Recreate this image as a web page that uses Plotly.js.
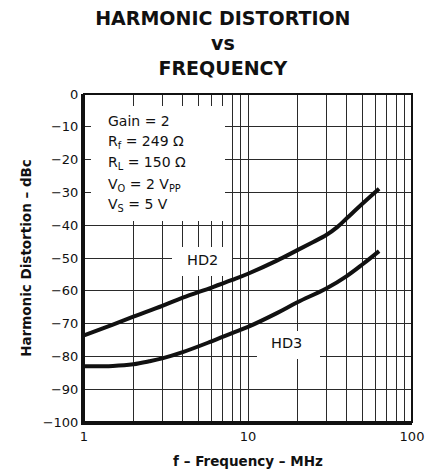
<!DOCTYPE html>
<html>
<head>
<meta charset="utf-8">
<script src="https://cdn.plot.ly/plotly-3.0.1.min.js"></script>
<style>
  html, body { margin: 0; padding: 0; background: #fff; }
  #chart { width: 437px; height: 472px; }
</style>
</head>
<body>
<div id="chart"></div>
<script>
// ---- Data ----
const seriesNames = ['HD2', 'HD3'];
const freqHD2 = [1, 1.5, 2, 3, 4, 6, 8, 10, 15, 20, 25, 30, 35, 40, 50, 63];
const hd2 = [-73.6, -70.3, -67.9, -64.6, -62.1, -59.0, -56.7, -54.8, -50.8, -47.6, -45.1, -43.0, -40.6, -37.9, -33.4, -28.9];
const freqHD3 = [1, 1.5, 2, 2.5, 3, 4, 6, 8, 10, 15, 20, 30, 40, 50, 63];
const hd3 = [-83.0, -82.9, -82.4, -81.5, -80.6, -78.7, -75.4, -72.9, -71.0, -66.8, -63.5, -59.3, -55.5, -51.9, -47.9];

const xTickVals = [1, 10, 100];
const xTickText = ['1', '10', '100'];
const xMinorVals = [2, 3, 4, 5, 6, 7, 8, 9, 20, 30, 40, 50, 60, 70, 80, 90];
const yTickVals = [0, -10, -20, -30, -40, -50, -60, -70, -80, -90, -100];
const yTickText = ['0', '\u221210', '\u221220', '\u221230', '\u221240', '\u221250', '\u221260', '\u221270', '\u221280', '\u221290', '\u2212100'];

const conditionLines = [
  'Gain = 2',
  'R<sub>f</sub> = 249 \u03A9',
  'R<sub>L</sub> = 150 \u03A9',
  'V<sub>O</sub> = 2 V<sub>PP</sub>',
  'V<sub>S</sub> = 5 V'
];

const chartTitle = 'HARMONIC DISTORTION<br>vs<br>FREQUENCY';
const xTitle = 'f \u2013 Frequency \u2013 MHz';
const yTitle = 'Harmonic Distortion \u2013 dBc';

// ---- Styling ----
const FONT = 'DejaVu Sans';
const gridColor = '#2a2a2a';

const traces = [
  { x: freqHD2, y: hd2, name: seriesNames[0], mode: 'lines',
    line: { color: '#111', width: 4, shape: 'spline', smoothing: 1 } },
  { x: freqHD3, y: hd3, name: seriesNames[1], mode: 'lines',
    line: { color: '#111', width: 4, shape: 'spline', smoothing: 1 } }
];

// condition text lines (paper coords)
const condX = 0.066;
const condY = [0.9176, 0.8545, 0.789, 0.723, 0.662];
const annotations = conditionLines.map((t, i) => ({
  xref: 'paper', yref: 'paper', x: condX, y: condY[i],
  xanchor: 'left', yanchor: 'middle', showarrow: false, align: 'left',
  text: t, font: { family: FONT, size: 14, color: '#111' }
}));
annotations.push({
  xref: 'paper', yref: 'paper', x: 0.3628, y: 0.4939, xanchor: 'center', yanchor: 'middle',
  showarrow: false, text: seriesNames[0], font: { family: FONT, size: 14.5, color: '#111' }
});
annotations.push({
  xref: 'paper', yref: 'paper', x: 0.6189, y: 0.2399, xanchor: 'center', yanchor: 'middle',
  showarrow: false, text: seriesNames[1], font: { family: FONT, size: 14.5, color: '#111' }
});

const whiteBox = (x0, x1, y0, y1) => ({
  type: 'rect', xref: 'paper', yref: 'paper', x0, x1, y0, y1,
  fillcolor: '#ffffff', line: { width: 0 }, layer: 'above'
});

const shapes = [
  whiteBox(0.0213, 0.4299, 0.6128, 0.9634),
  whiteBox(0.2683, 0.4512, 0.4451, 0.5335),
  whiteBox(0.5274, 0.7195, 0.1921, 0.2774),
  { type: 'rect', xref: 'paper', yref: 'paper', x0: 0, x1: 1, y0: 0, y1: 1,
    line: { color: '#111', width: 2 }, layer: 'above' }
];

const layout = {
  width: 437, height: 472,
  margin: { l: 84, r: 25, t: 94, b: 50 },
  paper_bgcolor: '#fff', plot_bgcolor: '#fff',
  showlegend: false,
  font: { family: FONT, color: '#111' },
  title: {
    text: chartTitle,
    font: { family: FONT, size: 19, color: '#111', weight: 'bold' },
    xref: 'container', yref: 'container', x: 0.51, xanchor: 'center',
    y: 0.946, yanchor: 'top'
  },
  xaxis: {
    type: 'log', range: [0, 2],
    tickmode: 'array', tickvals: xTickVals, ticktext: xTickText,
    ticks: '', showgrid: true, gridcolor: gridColor, gridwidth: 1,
    minor: { tickmode: 'array', tickvals: xMinorVals, showgrid: true, gridcolor: gridColor, gridwidth: 1, ticks: '' },
    showline: true, linecolor: '#111', linewidth: 3, zeroline: false,
    tickfont: { family: FONT, size: 13, color: '#111' },
    title: { text: xTitle, font: { family: FONT, size: 13.5, color: '#111', weight: 'bold' }, standoff: 14 },
    automargin: false, fixedrange: true
  },
  yaxis: {
    range: [-100, 0],
    tickmode: 'array', tickvals: yTickVals, ticktext: yTickText,
    ticks: '', showgrid: true, gridcolor: gridColor, gridwidth: 1,
    showline: true, linecolor: '#111', linewidth: 3, zeroline: false,
    tickfont: { family: FONT, size: 13, color: '#111' },
    title: { text: yTitle, font: { family: FONT, size: 13.5, color: '#111', weight: 'bold' }, standoff: 8 },
    automargin: false, fixedrange: true
  },
  annotations: annotations,
  shapes: shapes
};

Plotly.newPlot('chart', traces, layout, { staticPlot: true, displayModeBar: false });
</script>
</body>
</html>
